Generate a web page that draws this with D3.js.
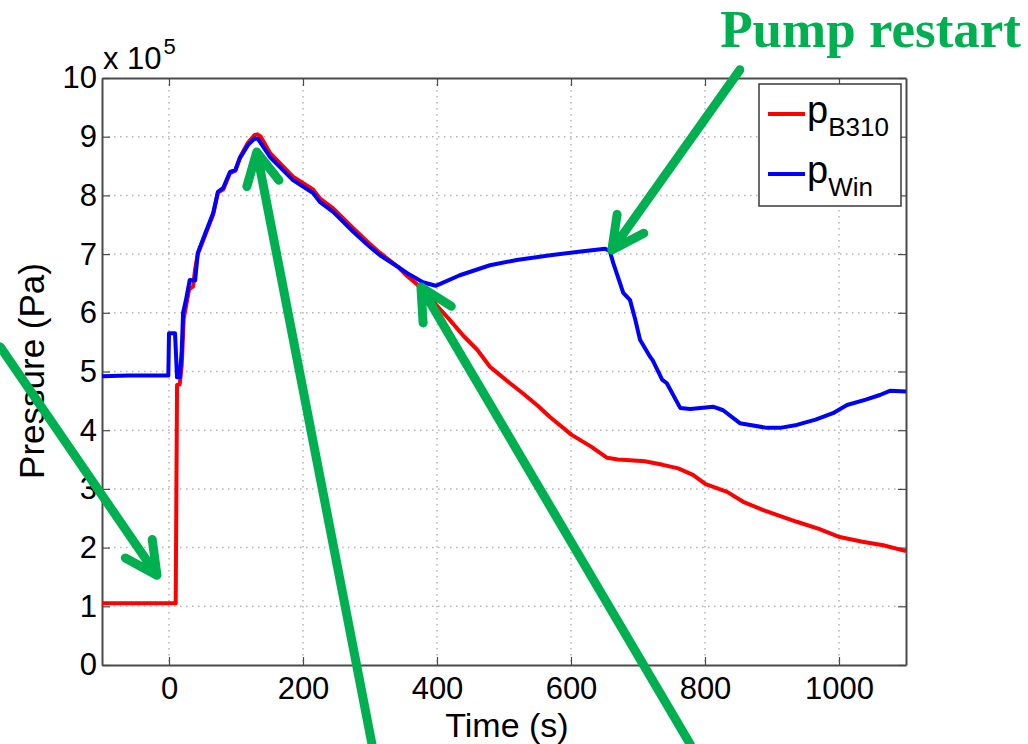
<!DOCTYPE html>
<html>
<head>
<meta charset="utf-8">
<script src="https://cdn.jsdelivr.net/npm/d3@7"></script>
<style>
  body { margin: 0; background: #fff; }
  text { font-family: "Liberation Sans", Arial, Helvetica, sans-serif; }
</style>
</head>
<body>
<div id="chart"></div>
<script>
// Pressure vs time, values in units of 1e5 Pa

// p_B310 (red)
var tB310 = [-100, 10, 12, 16, 19, 22, 30, 36, 39, 43, 55, 66, 73, 81, 91, 99, 106, 118, 128, 132, 137, 151, 185, 215, 225, 245, 275, 300, 315, 342, 355, 377, 400, 419, 440, 460, 479, 495, 509, 528, 550, 569, 601, 630, 654, 670, 688, 710, 737, 760, 782, 801, 833, 857, 887, 937, 970, 1001, 1035, 1066, 1100];
var pB310 = [1.05, 1.05, 4.77, 4.78, 5.1, 5.9, 6.4, 6.45, 6.75, 7.0, 7.35, 7.68, 8.05, 8.1, 8.38, 8.42, 8.65, 8.9, 9.03, 9.04, 9.0, 8.72, 8.32, 8.1, 7.95, 7.78, 7.44, 7.17, 7.02, 6.78, 6.63, 6.42, 6.12, 5.88, 5.6, 5.37, 5.08, 4.93, 4.8, 4.63, 4.42, 4.22, 3.92, 3.72, 3.53, 3.5, 3.49, 3.47, 3.41, 3.35, 3.24, 3.08, 2.95, 2.78, 2.64, 2.44, 2.32, 2.18, 2.1, 2.04, 1.94];

// p_Win (blue)
var tWin = [-100, -60, -1, 0, 9, 12, 16, 19, 21, 25, 31, 39, 43, 55, 66, 73, 81, 91, 99, 106, 118, 128, 133, 151, 185, 215, 225, 245, 275, 300, 315, 342, 355, 379, 398, 434, 479, 519, 569, 618, 651, 658, 663, 678, 688, 696, 703, 718, 722, 736, 743, 763, 778, 812, 827, 852, 892, 912, 937, 965, 991, 1012, 1040, 1061, 1076, 1100];
var pWin = [4.92, 4.93, 4.93, 5.65, 5.65, 4.9, 4.9, 5.35, 6.0, 6.2, 6.56, 6.55, 7.02, 7.38, 7.7, 8.06, 8.13, 8.4, 8.43, 8.64, 8.86, 8.97, 8.96, 8.65, 8.26, 8.04, 7.89, 7.72, 7.38, 7.12, 6.98, 6.78, 6.68, 6.52, 6.46, 6.64, 6.81, 6.9, 6.98, 7.05, 7.09, 7.05, 6.85, 6.34, 6.22, 5.88, 5.54, 5.25, 5.19, 4.86, 4.8, 4.38, 4.36, 4.4, 4.34, 4.12, 4.04, 4.04, 4.09, 4.18, 4.29, 4.43, 4.52, 4.6, 4.67, 4.66];

var xTicks = [0, 200, 400, 600, 800, 1000];
var yTicks = [0, 1, 2, 3, 4, 5, 6, 7, 8, 9, 10];

// green annotation arrows [tStart, pStart, tTip, pTip] in data units
var arrows = [
  [852, 10.14, 661, 7.07],
  [303, -1.35, 131, 8.74],
  [778, -1.35, 376, 6.44],
  [-252, 5.42, -18, 1.53]
];

var svgWidth = 1028;
var svgHeight = 744;
var margin = { top: 78, right: 122, bottom: 79, left: 102 };
var width = svgWidth - margin.left - margin.right;
var height = svgHeight - margin.top - margin.bottom;

var svg = d3.select("#chart")
  .append("svg")
  .attr("width", svgWidth)
  .attr("height", svgHeight);

var chartGroup = svg.append("g")
  .attr("transform", `translate(${margin.left}, ${margin.top})`);

var xScale = d3.scaleLinear().domain([-100, 1100]).range([0, width]);
var yScale = d3.scaleLinear().domain([0, 10]).range([height, 0]);

// dotted grid
chartGroup.selectAll(".vgrid")
  .data(xTicks)
  .enter().append("line")
  .attr("x1", d => xScale(d)).attr("x2", d => xScale(d))
  .attr("y1", 0).attr("y2", height)
  .attr("stroke", "#b4b4b4").attr("stroke-width", 1.5)
  .attr("stroke-dasharray", "1.5,4.5");

chartGroup.selectAll(".hgrid")
  .data(yTicks.slice(1, -1))
  .enter().append("line")
  .attr("y1", d => yScale(d)).attr("y2", d => yScale(d))
  .attr("x1", 0).attr("x2", width)
  .attr("stroke", "#b4b4b4").attr("stroke-width", 1.5)
  .attr("stroke-dasharray", "1.5,4.5");

// axes, MATLAB style ticks inside
var axisColor = "#4a4a4a";
function styleAxis(g) {
  g.select(".domain").attr("stroke", axisColor).attr("stroke-width", 2);
  g.selectAll(".tick line").attr("stroke", axisColor).attr("stroke-width", 1.2);
  g.selectAll("text").attr("fill", "#000").attr("font-size", 31)
    .attr("font-family", "Liberation Sans, Arial, sans-serif");
}

chartGroup.append("g")
  .attr("transform", `translate(0, ${height})`)
  .call(d3.axisBottom(xScale).tickValues(xTicks).tickFormat(d3.format("d"))
    .tickSize(-8).tickSizeOuter(0).tickPadding(12))
  .call(styleAxis);

chartGroup.append("g")
  .call(d3.axisTop(xScale).tickValues(xTicks).tickSize(-8).tickSizeOuter(0).tickFormat(""))
  .call(styleAxis);

chartGroup.append("g")
  .call(d3.axisLeft(yScale).tickValues(yTicks).tickFormat(d3.format("d"))
    .tickSize(-8).tickSizeOuter(0).tickPadding(5))
  .call(styleAxis);

chartGroup.append("g")
  .attr("transform", `translate(${width}, 0)`)
  .call(d3.axisRight(yScale).tickValues(yTicks).tickSize(-8).tickSizeOuter(0).tickFormat(""))
  .call(styleAxis);

// exponent label
var expo = chartGroup.append("text")
  .attr("x", 1)
  .attr("y", -9)
  .attr("font-size", 31)
  .text("x 10");
expo.append("tspan")
  .attr("dy", -15)
  .attr("dx", 2)
  .attr("font-size", 22)
  .text("5");

// lines
var line = d3.line()
  .x(d => xScale(d[0]))
  .y(d => yScale(d[1]));

var redData = tB310.map((t, i) => [t, pB310[i]]);
var blueData = tWin.map((t, i) => [t, pWin[i]]);

chartGroup.append("path")
  .datum(redData)
  .attr("d", line)
  .attr("fill", "none")
  .attr("stroke", "#ff0000")
  .attr("stroke-width", 4)
  .attr("stroke-linejoin", "round");

chartGroup.append("path")
  .datum(blueData)
  .attr("d", line)
  .attr("fill", "none")
  .attr("stroke", "#0000ff")
  .attr("stroke-width", 4)
  .attr("stroke-linejoin", "round");

// legend
var legend = chartGroup.append("g")
  .attr("transform", `translate(${width - 147}, 6)`);

legend.append("rect")
  .attr("width", 142).attr("height", 122)
  .attr("fill", "#fff")
  .attr("stroke", "#3a3a3a").attr("stroke-width", 1.5);

var legendItems = [
  { main: "p", sub: "B310", color: "#ff0000" },
  { main: "p", sub: "Win", color: "#0000ff" }
];

legendItems.forEach(function(item, i) {
  var yy = 30 + i * 60;
  legend.append("line")
    .attr("x1", 9).attr("x2", 46)
    .attr("y1", yy).attr("y2", yy)
    .attr("stroke", item.color).attr("stroke-width", 4);
  var txt = legend.append("text")
    .attr("x", 48)
    .attr("y", yy + 9)
    .attr("font-size", 38)
    .text(item.main);
  txt.append("tspan")
    .attr("dy", 13)
    .attr("font-size", 26)
    .text(item.sub);
});

// axis labels
chartGroup.append("text")
  .attr("transform", "rotate(-90)")
  .attr("x", -(371 - margin.top))
  .attr("y", 44 - margin.left)
  .attr("text-anchor", "middle")
  .attr("font-size", 35)
  .text("Pressure (Pa)");

chartGroup.append("text")
  .attr("x", 507 - margin.left)
  .attr("y", 737 - margin.top)
  .attr("text-anchor", "middle")
  .attr("font-size", 34)
  .text("Time (s)");

// annotations
var green = "#00b050";

svg.append("text")
  .attr("x", 1021)
  .attr("y", 47)
  .attr("text-anchor", "end")
  .style("font-family", "'Liberation Serif', 'Times New Roman', serif")
  .attr("font-weight", "bold")
  .attr("font-size", 53)
  .attr("fill", green)
  .text("Pump restart");

var arrowGroup = chartGroup.append("g");
arrows.forEach(function(a) {
  var x0 = xScale(a[0]), y0 = yScale(a[1]);
  var x1 = xScale(a[2]), y1 = yScale(a[3]);
  var ang = Math.atan2(y0 - y1, x0 - x1);
  var spread = 27 * Math.PI / 180;
  var len = 36;
  var ax = x1 + len * Math.cos(ang + spread), ay = y1 + len * Math.sin(ang + spread);
  var bx = x1 + len * Math.cos(ang - spread), by = y1 + len * Math.sin(ang - spread);
  arrowGroup.append("path")
    .attr("d", `M${x0},${y0}L${x1},${y1}M${ax},${ay}L${x1},${y1}L${bx},${by}`)
    .attr("fill", "none")
    .attr("stroke", green)
    .attr("stroke-width", 9)
    .attr("stroke-linecap", "round")
    .attr("stroke-linejoin", "round");
});
</script>
</body>
</html>
